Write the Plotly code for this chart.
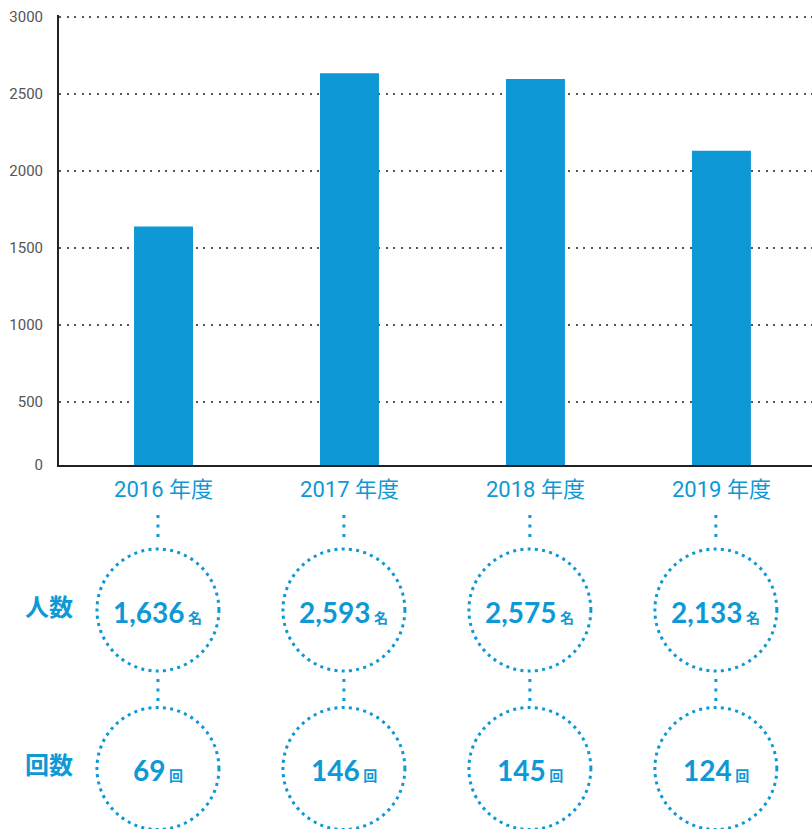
import plotly.graph_objects as go

# ---- data ----
categories = ["2016 年度", "2017 年度", "2018 年度", "2019 年度"]
bar_values = [1640, 2635, 2597, 2131]          # bar heights
people_labels = ["1,636", "2,593", "2,575", "2,133"]
count_labels = ["69", "146", "145", "124"]
y_tick_vals = [500, 1000, 1500, 2000, 2500, 3000]
y_tick_text = ["500", "1000", "1500", "2000", "2500", "3000"]
row_labels = ["人数", "回数"]
people_unit = "名"
count_unit = "回"

BLUE = "#0e98d6"
W, H = 812, 829
M_T, M_B, M_L = 15, 364, 59
PLOT_H = H - M_T - M_B
Y_MIN = 91     # axis baseline value (labelled 0 in the chart)
Y_MAX = 3013


def py(p):
    """pixel row -> paper y"""
    return (H - M_B - p) / PLOT_H


fig = go.Figure()
fig.add_trace(go.Bar(
    x=categories, y=bar_values, width=0.317,
    marker=dict(color=BLUE, line=dict(width=0)),
    hoverinfo="x+y",
))

shapes = []
annotations = []
R = 61
XPX = 186.0
for i in range(len(categories)):
    cx = i - 0.03
    rx = R / XPX
    for cy in (610, 768.5):
        shapes.append(dict(
            type="circle", xref="x", yref="paper",
            x0=cx - rx, x1=cx + rx, y0=py(cy + R), y1=py(cy - R),
            line=dict(color=BLUE, width=3, dash="3px,4.3px"),
            layer="above",
        ))
    shapes.append(dict(type="line", xref="x", yref="paper", x0=cx, x1=cx,
                       y0=py(515), y1=py(538),
                       line=dict(color=BLUE, width=3, dash="3px,6.5px")))
    shapes.append(dict(type="line", xref="x", yref="paper", x0=cx, x1=cx,
                       y0=py(679), y1=py(701),
                       line=dict(color=BLUE, width=3, dash="3px,6.5px")))
    annotations.append(dict(
        xref="x", yref="paper", x=cx, y=py(612), xanchor="center", yanchor="middle",
        text=f"<b>{people_labels[i]}<span style='font-size:14px'> {people_unit}</span></b>",
        showarrow=False, font=dict(size=28, color=BLUE, family="Lato, Noto Sans CJK JP"),
    ))
    annotations.append(dict(
        xref="x", yref="paper", x=cx, y=py(770), xanchor="center", yanchor="middle",
        text=f"<b>{count_labels[i]}<span style='font-size:14px'> {count_unit}</span></b>",
        showarrow=False, font=dict(size=28, color=BLUE, family="Lato, Noto Sans CJK JP"),
    ))

for lab, cy in zip(row_labels, (605, 763)):
    annotations.append(dict(
        xref="paper", yref="paper", x=(23 - M_L) / (W - M_L), y=py(cy),
        xanchor="left", yanchor="middle", text=f"<b>{lab}</b>", showarrow=False,
        font=dict(size=24, color=BLUE, family="Noto Sans CJK JP"),
    ))

fig.update_layout(
    width=W, height=H,
    margin=dict(l=M_L, r=0, t=M_T, b=M_B, pad=0),
    paper_bgcolor="white", plot_bgcolor="white",
    showlegend=False,
    shapes=shapes, annotations=annotations,
    xaxis=dict(
        type="category", range=[-0.562, 3.487],
        showgrid=False, zeroline=False,
        showline=True, linecolor="#222", linewidth=2,
        ticks="", ticklabelstandoff=4,
        tickfont=dict(size=22, color=BLUE, family="Roboto, Noto Sans CJK JP"),
    ),
    yaxis=dict(
        range=[Y_MIN, Y_MAX],
        tickvals=[Y_MIN] + y_tick_vals, ticktext=["0"] + y_tick_text,
        showgrid=True, gridcolor="#555", gridwidth=2, griddash="2px,5.6px",
        zeroline=False,
        showline=True, linecolor="#222", linewidth=2,
        ticks="", ticklabelstandoff=11,
        tickfont=dict(size=15, color="#555", family="Roboto"),
    ),
)

fig.write_html(
    "out.html",
    config={"displayModeBar": False},
    post_script="document.body.style.margin='0';document.body.style.overflow='hidden';",
)
